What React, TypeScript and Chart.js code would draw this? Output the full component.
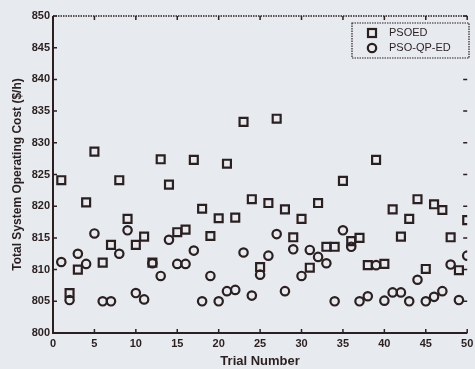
import React, { useEffect, useRef } from "react";
import { Chart, registerables } from "chart.js";
Chart.register(...registerables);

const trials = [1,2,3,4,5,6,7,8,9,10,11,12,13,14,15,16,17,18,19,20,21,22,23,24,25,26,27,28,29,30,31,32,33,34,35,36,37,38,39,40,41,42,43,44,45,46,47,48,49,50];
const psoed = [824.1,806.3,810.0,820.6,828.6,811.1,813.9,824.1,818.0,813.9,815.2,811.1,827.4,823.4,815.9,816.3,827.3,819.6,815.3,818.1,826.7,818.2,833.3,821.1,810.4,820.5,833.8,819.5,815.1,818.0,810.3,820.5,813.6,813.6,824.0,814.5,815.0,810.7,827.3,810.9,819.5,815.2,818.0,821.1,810.1,820.3,819.4,815.1,809.9,817.8];
const psoQpEd = [811.2,805.2,812.5,810.9,815.7,805.0,805.0,812.5,816.2,806.3,805.3,811.0,809.0,814.7,810.9,810.9,813.0,805.0,809.0,805.0,806.6,806.8,812.7,805.9,809.2,812.2,815.6,806.6,813.2,809.0,813.1,812.0,811.0,805.0,816.2,813.6,805.0,805.8,810.7,805.1,806.4,806.4,805.0,808.4,805.0,805.7,806.6,810.8,805.2,812.2];
const xTicks = [0,5,10,15,20,25,30,35,40,45,50];
const yTicks = [800,805,810,815,820,825,830,835,840,845,850];
const seriesNames = ["PSOED", "PSO-QP-ED"];

const INK = "#2b1f20";
const BG = "#e7eaee";

const framePlugin = {
  id: "frame",
  beforeDraw(chart: any) {
    const ctx = chart.ctx;
    ctx.save();
    ctx.fillStyle = BG;
    ctx.fillRect(0, 0, chart.width, chart.height);
    ctx.restore();
  },
  afterDatasetsDraw(chart: any) {
    const ctx = chart.ctx;
    const { left, right, top, bottom } = chart.chartArea;
    const xs = chart.scales.x;
    const ys = chart.scales.y;
    ctx.save();
    ctx.strokeStyle = INK;
    ctx.lineWidth = 2;
    ctx.beginPath();
    ctx.moveTo(left, top);
    ctx.lineTo(left, bottom);
    ctx.lineTo(right, bottom);
    ctx.stroke();
    ctx.lineWidth = 1.5;
    ctx.setLineDash([1.5, 1]);
    ctx.beginPath();
    ctx.moveTo(left, top);
    ctx.lineTo(right, top);
    ctx.stroke();
    ctx.setLineDash([]);
    ctx.lineWidth = 1.5;
    const tl = 4;
    xTicks.forEach((v) => {
      const px = xs.getPixelForValue(v);
      ctx.beginPath();
      ctx.moveTo(px, bottom);
      ctx.lineTo(px, bottom - tl);
      ctx.moveTo(px, top);
      ctx.lineTo(px, top + tl);
      ctx.stroke();
    });
    yTicks.forEach((v) => {
      const py = ys.getPixelForValue(v);
      ctx.beginPath();
      ctx.moveTo(left, py);
      ctx.lineTo(left + tl, py);
      ctx.moveTo(right, py);
      ctx.lineTo(right - tl, py);
      ctx.stroke();
    });
    const lx = 352, ly = 23, lw = 117, lh = 35;
    ctx.fillStyle = BG;
    ctx.fillRect(lx, ly, lw, lh);
    ctx.lineWidth = 1.2;
    ctx.setLineDash([1.5, 1]);
    ctx.strokeRect(lx, ly, lw, lh);
    ctx.setLineDash([]);
    ctx.lineWidth = 2.2;
    ctx.strokeRect(368, 29, 8, 8);
    ctx.beginPath();
    ctx.arc(372, 48, 4.2, 0, Math.PI * 2);
    ctx.stroke();
    ctx.fillStyle = INK;
    ctx.font = "11px 'Liberation Sans', Arial, sans-serif";
    ctx.textBaseline = "middle";
    ctx.textAlign = "left";
    ctx.fillText(seriesNames[0], 389, 33);
    ctx.fillText(seriesNames[1], 389, 48);
    ctx.restore();
  },
};

export default function App() {
  const ref = useRef<HTMLCanvasElement>(null);
  useEffect(() => {
    document.body.style.margin = "0";
    document.body.style.background = BG;
    const canvas = ref.current!;
    const chart = new Chart(canvas, {
      type: "scatter",
      data: {
        datasets: [
          {
            label: seriesNames[0],
            data: trials.map((t, i) => ({ x: t, y: psoed[i] })),
            pointStyle: "rect",
            pointRadius: 5.6,
            borderWidth: 2.2,
            borderColor: INK,
            backgroundColor: "rgba(0,0,0,0)",
          },
          {
            label: seriesNames[1],
            data: trials.map((t, i) => ({ x: t, y: psoQpEd[i] })),
            pointStyle: "circle",
            pointRadius: 4.2,
            borderWidth: 2.2,
            borderColor: INK,
            backgroundColor: "rgba(0,0,0,0)",
          },
        ],
      },
      options: {
        animation: false,
        responsive: false,
        layout: { padding: { top: 16, right: 5, left: 0, bottom: 0 } },
        plugins: { legend: { display: false }, tooltip: { enabled: false } },
        scales: {
          x: {
            type: "linear",
            min: 0,
            max: 50,
            afterBuildTicks: (s: any) => { s.ticks = xTicks.map((v) => ({ value: v })); },
            afterFit: (s: any) => { s.height = 36; s.paddingRight = 0; s.paddingLeft = 0; },
            grid: { display: false, drawTicks: false },
            border: { display: false },
            ticks: { color: INK, padding: 4, font: { family: "'Liberation Sans', Arial, sans-serif", size: 11, weight: "bold" } },
            title: { display: true, text: "Trial Number", color: INK, padding: { top: 0, bottom: 0 }, font: { family: "'Liberation Sans', Arial, sans-serif", size: 13, weight: "bold" } },
          },
          y: {
            type: "linear",
            min: 800,
            max: 850,
            afterBuildTicks: (s: any) => { s.ticks = yTicks.map((v) => ({ value: v })); },
            afterFit: (s: any) => { s.width = 53; s.paddingTop = 0; s.paddingBottom = 0; },
            grid: { display: false, drawTicks: false },
            border: { display: false },
            ticks: { color: INK, padding: 3, font: { family: "'Liberation Sans', Arial, sans-serif", size: 11, weight: "bold" } },
            title: { display: true, text: "Total System Operating Cost ($/h)", color: INK, padding: { top: 10, bottom: 0 }, font: { family: "'Liberation Sans', Arial, sans-serif", size: 12, weight: "bold" } },
          },
        },
      },
      plugins: [framePlugin],
    } as any);
    return () => chart.destroy();
  }, []);
  return (
    <div style={{ width: 475, height: 369 }}>
      <canvas ref={ref} width={475} height={369} style={{ display: "block" }} />
    </div>
  );
}
